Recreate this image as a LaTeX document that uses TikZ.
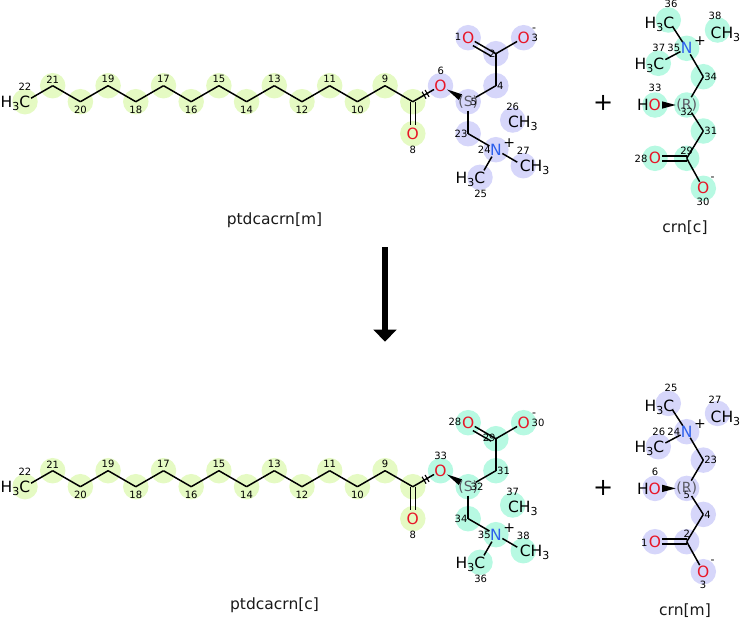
\documentclass[tikz,border=0pt]{standalone}
\usepackage{fontspec}
\setmainfont{DejaVu Sans}
\usetikzlibrary{calc,arrows.meta}
\definecolor{limec}{RGB}{229,250,195}
\definecolor{lavc}{RGB}{214,214,250}
\definecolor{mintc}{RGB}{183,249,226}
\definecolor{ored}{RGB}{232,22,40}
\definecolor{nblue}{RGB}{45,95,235}
\definecolor{stgray}{RGB}{90,90,100}
\newcommand\subn[1]{\raisebox{-3.2pt}{\fontsize{11}{11}\selectfont #1}}
\newcommand\atom[3]{\coordinate (#1) at (#2); \node[hl, fill=#3] (h#1) at (#1) {};}
\newcommand\wedgebond[5]{%
  \path ($(#2)!#4!(#1)$) coordinate (wtmp);
  \fill ($(#1)!#3!(#2)$) -- ($(wtmp)!#5!90:(#2)$) -- ($(wtmp)!#5!-90:(#2)$) -- cycle;}
\newcommand\ptdca[2]{%
  % atoms and highlight discs
  \foreach \i in {9,...,22}{%
    \pgfmathsetmacro\xx{25+27.7*(22-\i)}%
    \pgfmathsetmacro\yy{isodd(\i)?85.7:101.7}%
    \atom{#1-\i}{\xx,\yy}{limec}}%
  \atom{#1-7}{412.8,101.7}{limec}
  \atom{#1-8}{412.8,133.7}{limec}
  \atom{#1-6}{440.5,85.7}{#2}
  \atom{#1-5}{468.2,101.7}{#2}
  \atom{#1-4}{495.9,85.7}{#2}
  \atom{#1-2}{495.9,53.7}{#2}
  \atom{#1-1}{468.2,37.7}{#2}
  \atom{#1-3}{523.6,37.7}{#2}
  \atom{#1-23}{468.2,133.7}{#2}
  \atom{#1-24}{495.9,149.7}{#2}
  \atom{#1-25}{480,177.3}{#2}
  \atom{#1-26}{512.7,120}{#2}
  \atom{#1-27}{523.3,165.7}{#2}
  % bonds
  \foreach \i [evaluate=\i as \j using int(\i+1)] in {9,...,20}{\draw[bond] (#1-\i) -- (#1-\j);}
  \draw[bond, shorten >=7pt] (#1-21) -- (#1-22);
  \draw[bond] (#1-9) -- (#1-7);
  \draw[bond, shorten >=7.5pt] (#1-7) -- (#1-6);
  \path ($(#1-7)!13pt!(#1-6)$) coordinate (#1-ha) ($(#1-7)!16.5pt!(#1-6)$) coordinate (#1-hb);
  \draw[tick] ($(#1-ha)!4pt!90:(#1-6)$) -- ($(#1-ha)!4pt!-90:(#1-6)$);
  \draw[tick] ($(#1-hb)!4pt!90:(#1-6)$) -- ($(#1-hb)!4pt!-90:(#1-6)$);
  \draw[bond, shorten >=9pt] ([xshift=-2.5pt]#1-7) -- ([xshift=-2.5pt]#1-8);
  \draw[bond, shorten >=9pt] ([xshift=2.5pt]#1-7) -- ([xshift=2.5pt]#1-8);
  \wedgebond{#1-6}{#1-5}{7.5pt}{9pt}{3.3pt}
  \draw[bond, shorten <=9pt] (#1-5) -- (#1-4);
  \draw[bond] (#1-4) -- (#1-2);
  \draw[bond, shorten >=7.5pt] (#1-2) -- (#1-1);
  \draw[bond, shorten <=3pt, shorten >=8pt] ([shift={(-2.2,3.9)}]#1-2) -- ([shift={(-2.2,3.9)}]#1-1);
  \draw[bond, shorten >=7.5pt] (#1-2) -- (#1-3);
  \draw[bond, shorten <=9pt] (#1-5) -- (#1-23);
  \draw[bond, shorten >=7.5pt] (#1-23) -- (#1-24);
  \draw[bond, shorten <=7.5pt, shorten >=7pt] (#1-24) -- (#1-27);
  \draw[bond, shorten <=8pt, shorten >=8pt] (#1-24) -- (#1-25);
  % atom texts
  \node[atomtxt, anchor=base east] (#1-x22) at ([shift={(5.4,5.7)}]#1-22) {H\subn{3}C};
  \node[otxt] (#1-x8) at (#1-8) {O};
  \node[otxt] (#1-x6) at (#1-6) {O};
  \node[stereo] (#1-x5) at (#1-5) {(S)};
  \node[otxt] (#1-x1) at (#1-1) {O};
  \node[otxt] (#1-x3) at (#1-3) {O};
  \node[ntxt] (#1-x24) at (#1-24) {N};
  \node[atomtxt, anchor=base east] (#1-x25) at ([shift={(5.4,6.4)}]#1-25) {H\subn{3}C};
  \node[atomtxt, anchor=base west] (#1-x26) at ([shift={(-4.8,7.7)}]#1-26) {CH\subn{3}};
  \node[atomtxt, anchor=base west] (#1-x27) at ([shift={(-3.7,6)}]#1-27) {CH\subn{3}};
  \node[chg] (#1-c3) at (534,30) {-};
  \node[chgp] (#1-c24) at (509.3,142.7) {+};
  % numbers
  \foreach \i in {9,...,21}{%
    \pgfmathsetmacro\xx{25+27.7*(22-\i)}%
    \pgfmathsetmacro\yy{isodd(\i)?79.3:110}%
    \node[num] (#1-l\i) at (\xx,\yy) {\i};}
  \node[num] (#1-l22) at (25,86.7) {22};
  \node[num] (#1-l8) at (412.7,150) {8};
  \node[num] (#1-l6) at (440.7,71) {\La};
  \node[num, anchor=west] (#1-l5) at (470.5,101.7) {\Lb};
  \node[num, anchor=west] (#1-l4) at (497,86) {\Lc};
  \node[num, anchor=east] (#1-l2) at (495.8,53.3) {\Ld};
  \node[num, anchor=east] (#1-l1) at (461.5,37.3) {\Le};
  \node[num, anchor=west] (#1-l3) at (531.5,38.3) {\Lf};
  \node[num] (#1-l26) at (512.7,107.3) {\Lg};
  \node[num] (#1-l23) at (461,134.3) {\Lh};
  \node[num] (#1-l24) at (484.3,150) {\Li};
  \node[num] (#1-l27) at (523.3,150.7) {\Lj};
  \node[num] (#1-l25) at (480.7,194) {\Lk};
  \node[mol] (#1-name) at (274.5,220) {\Lname};
}
\newcommand\crnmol[2]{%
  \atom{#1-a}{668.3,20}{#2}
  \atom{#1-n}{686.7,48.3}{#2}
  \atom{#1-b}{717.5,30}{#2}
  \atom{#1-c}{658.3,63.3}{#2}
  \atom{#1-d}{703.3,76.7}{#2}
  \atom{#1-r}{686.7,105}{#2}
  \atom{#1-o}{655,105}{#2}
  \atom{#1-e}{703.3,131}{#2}
  \atom{#1-f}{686.7,158.3}{#2}
  \atom{#1-g}{655,158.3}{#2}
  \atom{#1-h}{703.3,188.3}{#2}
  % bonds
  \draw[bond, shorten <=8pt, shorten >=7pt] (#1-a) -- (#1-n);
  \draw[bond, shorten <=7pt, shorten >=8pt] (#1-n) -- (#1-c);
  \draw[bond, shorten <=7pt] (#1-n) -- (#1-d);
  \draw[bond, shorten >=9pt] (#1-d) -- (#1-r);
  \draw[bond, shorten <=9pt] (#1-r) -- (#1-e);
  \draw[bond] (#1-e) -- (#1-f);
  \draw[bond, shorten >=7pt] ([yshift=2.5pt]#1-f) -- ([yshift=2.5pt]#1-g);
  \draw[bond, shorten >=7pt] ([yshift=-2.5pt]#1-f) -- ([yshift=-2.5pt]#1-g);
  \draw[bond, shorten >=7.5pt] (#1-f) -- (#1-h);
  \wedgebond{#1-r}{#1-o}{11pt}{7pt}{3.7pt}
  % atom texts
  \node[atomtxt, anchor=base east] (#1-xa) at ([shift={(6.1,8)}]#1-a) {H\subn{3}C};
  \node[ntxt] (#1-xn) at (#1-n) {N};
  \node[atomtxt, anchor=base west] (#1-xb) at ([shift={(-7,8.7)}]#1-b) {CH\subn{3}};
  \node[atomtxt, anchor=base east] (#1-xc) at ([shift={(6.1,5.7)}]#1-c) {H\subn{3}C};
  \node[stereo] (#1-xr) at (#1-r) {(R)};
  \node[atomtxt, anchor=base east] (#1-xo) at ([shift={(6.1,5.9)}]#1-o) {H\textcolor{ored}{O}};
  \node[otxt] (#1-xg) at (#1-g) {O};
  \node[otxt] (#1-xh) at (#1-h) {O};
  \node[chgp] (#1-cn) at (700,40.7) {+};
  \node[chg] (#1-ch) at (712.7,178.3) {-};
  % numbers
  \node[num] (#1-la) at (671,4) {\Ma};
  \node[num] (#1-lb) at (715,16) {\Mb};
  \node[num] (#1-lc) at (658.8,48.3) {\Mc};
  \node[num] (#1-ln) at (673.8,48.3) {\Md};
  \node[num] (#1-ld) at (710.7,76.7) {\Me};
  \node[num] (#1-lo) at (655,88.3) {\Mf};
  \node[num] (#1-lr) at (686.7,111.7) {\Mg};
  \node[num, anchor=west] (#1-le) at (704.2,131) {\Mh};
  \node[num] (#1-lf) at (686.7,150.7) {\Mi};
  \node[num, anchor=east] (#1-lg) at (647.6,159.3) {\Mj};
  \node[num] (#1-lh) at (703,201.7) {\Mk};
  \node[mol] (#1-name) at (685,227.7) {\Mname};
}
\begin{document}
\begin{tikzpicture}[x=1pt,y=-1pt,
  hl/.style={circle, minimum size=25.5pt, inner sep=0pt, draw=none},
  bond/.style={line width=1.5pt, black},
  tick/.style={line width=1.1pt, black},
  atomtxt/.style={font=\fontsize{15.5}{16}\selectfont, inner sep=0pt},
  otxt/.style={atomtxt, text=ored},
  ntxt/.style={atomtxt, text=nblue},
  stereo/.style={font=\fontsize{14}{14}\selectfont, inner sep=0pt, text=stgray},
  num/.style={font=\fontsize{10}{10}\selectfont, inner sep=0pt},
  chg/.style={font=\fontsize{11}{11}\selectfont, inner sep=0pt},
  chgp/.style={font=\fontsize{14}{14}\selectfont, inner sep=0pt},
  mol/.style={font=\fontsize{15.5}{16}\selectfont, inner sep=0pt, text=black!90},
  plus/.style={font=\fontsize{24}{24}\selectfont, inner sep=0pt},
  bigarrow/.style={line width=6.5pt, -{Triangle[width=22.5pt,length=12pt]}}]
\useasboundingbox (0,0) rectangle (740,619);
% top left: ptdcacrn[m]
\def\La{6}\def\Lb{5}\def\Lc{4}\def\Ld{2}\def\Le{1}\def\Lf{3}
\def\Lg{26}\def\Lh{23}\def\Li{24}\def\Lj{27}\def\Lk{25}\def\Lname{ptdcacrn[m]}
\ptdca{t}{lavc}
% top right: crn[c]
\def\Ma{36}\def\Mb{38}\def\Mc{37}\def\Md{35}\def\Me{34}\def\Mf{33}
\def\Mg{32}\def\Mh{31}\def\Mi{29}\def\Mj{28}\def\Mk{30}\def\Mname{crn[c]}
\crnmol{u}{mintc}
% bottom left: ptdcacrn[c]
\begin{scope}[shift={(0,385)}]
\def\La{33}\def\Lb{32}\def\Lc{31}\def\Ld{29}\def\Le{28}\def\Lf{30}
\def\Lg{37}\def\Lh{34}\def\Li{35}\def\Lj{38}\def\Lk{36}\def\Lname{ptdcacrn[c]}
\ptdca{b}{mintc}
\end{scope}
% bottom right: crn[m]
\begin{scope}[shift={(0,383.4)}]
\def\Ma{25}\def\Mb{27}\def\Mc{26}\def\Md{24}\def\Me{23}\def\Mf{6}
\def\Mg{5}\def\Mh{4}\def\Mi{2}\def\Mj{1}\def\Mk{3}\def\Mname{crn[m]}
\crnmol{v}{lavc}
\end{scope}
% plus signs
\node[plus] (plus1) at (603.3,102.7) {+};
\node[plus] (plus2) at (603.3,487.7) {+};
% reaction arrow
\coordinate (arrS) at (385,247);
\coordinate (arrE) at (385,341.7);
\draw[bigarrow] (arrS) -- (arrE);
\end{tikzpicture}
\end{document}
